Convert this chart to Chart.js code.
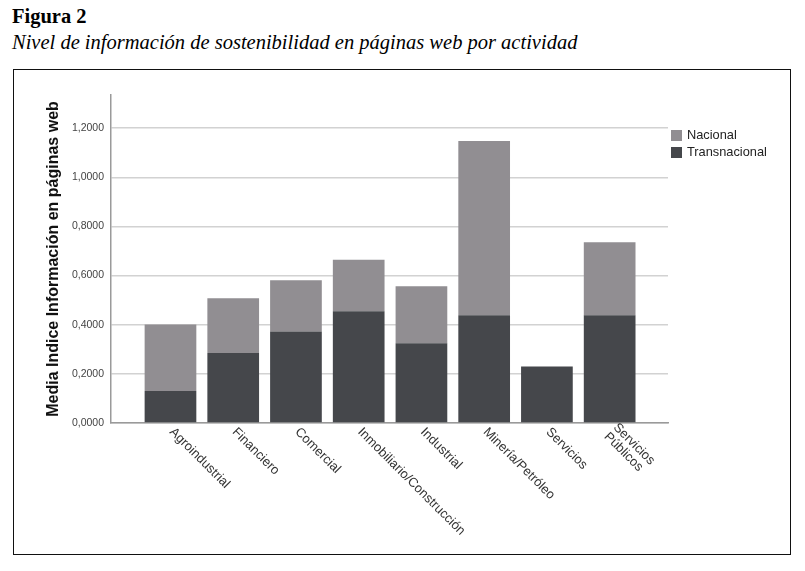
<!DOCTYPE html>
<html>
<head>
<meta charset="utf-8">
<script src="https://cdn.jsdelivr.net/npm/chart.js@4.4.0/dist/chart.umd.min.js"></script>
<style>
    body { margin: 0; width: 805px; height: 571px; background: #fff; position: relative; overflow: hidden; }
    #head1 { position: absolute; left: 12px; top: 5px; font: bold 20.5px "Liberation Serif"; color: #000; }
    #head2 { position: absolute; left: 12px; top: 31px; font: italic 20.5px "Liberation Serif"; color: #000; }
    #frame { position: absolute; left: 13px; top: 69px; width: 776px; height: 484px; border: 1.5px solid #111; }
    #wrap { position: absolute; left: 0; top: 0; width: 805px; height: 571px; }
</style>
</head>
<body>
<div id="head1">Figura 2</div>
<div id="head2">Nivel de información de sostenibilidad en páginas web por actividad</div>
<div id="frame"></div>
<div id="wrap"><canvas id="sim-chart"></canvas></div>
<script>
const categories = ['Agroindustrial', 'Financiero', 'Comercial', 'Inmobiliario/Construcción',
    'Industrial', 'Minería/Petróleo', 'Servicios', ['Servicios', 'Públicos']];
const transnacional = [0.130, 0.285, 0.372, 0.455, 0.325, 0.439, 0.230, 0.439];
const nacional = [0.271, 0.223, 0.209, 0.209, 0.232, 0.709, 0, 0.297];
const yTicks = [0, 0.2, 0.4, 0.6, 0.8, 1.0, 1.2];

const darkGrey = '#45474b';
const lightGrey = '#918e92';

// rotated category labels + legend box on the right
const extrasPlugin = {
    id: 'extras',
    afterDraw(chart) {
        const ctx = chart.ctx;
        const xs = chart.scales.x;
        const top = chart.chartArea.bottom + 7;
        ctx.save();
        ctx.font = '13px "Liberation Sans"';
        ctx.fillStyle = '#333';
        ctx.textBaseline = 'middle';
        ctx.textAlign = 'left';
        categories.forEach((label, i) => {
            const lines = Array.isArray(label) ? label : [label];
            ctx.save();
            ctx.translate(xs.getPixelForValue(i) + 1, top);
            ctx.rotate(Math.PI / 4);
            lines.forEach((ln, j) => ctx.fillText(ln, 0, (j - (lines.length - 1) / 2) * 13));
            ctx.restore();
        });

        const items = chart.data.datasets.slice().reverse();
        ctx.font = '12.8px "Liberation Sans"';
        items.forEach((ds, i) => {
            const y = 130 + i * 17;
            ctx.fillStyle = ds.backgroundColor;
            ctx.fillRect(671, y, 11, 11);
            ctx.fillStyle = '#222';
            ctx.fillText(ds.label, 687, y + 5.5);
        });
        ctx.restore();
    }
};

function setupChart() {
    const ctx = document.getElementById('sim-chart');

    const config = {
        type: 'bar',
        data: {
            datasets: [{
                label: 'Transnacional',
                data: transnacional.map((v, i) => ({x: i, y: v})),
                backgroundColor: darkGrey,
                barPercentage: 1,
                categoryPercentage: 0.886
            }, {
                label: 'Nacional',
                data: nacional.map((v, i) => ({x: i, y: v})),
                backgroundColor: lightGrey,
                barPercentage: 1,
                categoryPercentage: 0.886
            }]
        },
        options: {
            responsive: false,
            animation: false,
            layout: {
                padding: {left: 41, right: 137, top: 95, bottom: 0}
            },
            plugins: {
                legend: {display: false},
                tooltip: {enabled: false}
            },
            scales: {
                x: {
                    type: 'linear',
                    offset: false,
                    min: -0.948,
                    max: 7.93,
                    stacked: true,
                    grid: {display: false},
                    ticks: {display: false},
                    border: {color: '#9a9a9a', width: 1.5},
                    afterFit: s => { s.height = 148; }
                },
                y: {
                    min: 0,
                    max: 1.335,
                    stacked: true,
                    afterBuildTicks: s => { s.ticks = yTicks.map(v => ({value: v})); },
                    ticks: {
                        color: '#444',
                        padding: 7,
                        font: {family: 'Liberation Sans', size: 10.5},
                        callback: v => v.toFixed(4).replace('.', ',')
                    },
                    grid: {color: '#d2d2d2', lineWidth: 1.5, drawTicks: false},
                    border: {color: '#9a9a9a', width: 1.5},
                    title: {
                        display: true,
                        text: 'Media Indice Información en páginas web',
                        color: '#111',
                        padding: {top: 3, bottom: 4},
                        font: {family: 'Liberation Sans', size: 16, weight: 'bold'}
                    },
                    afterFit: s => { s.width = 70; }
                }
            }
        },
        plugins: [extrasPlugin]
    };

    const canvas = document.getElementById('sim-chart');
    canvas.width = 805;
    canvas.height = 571;
    return new Chart(ctx, config);
}

setupChart();
</script>
</body>
</html>
